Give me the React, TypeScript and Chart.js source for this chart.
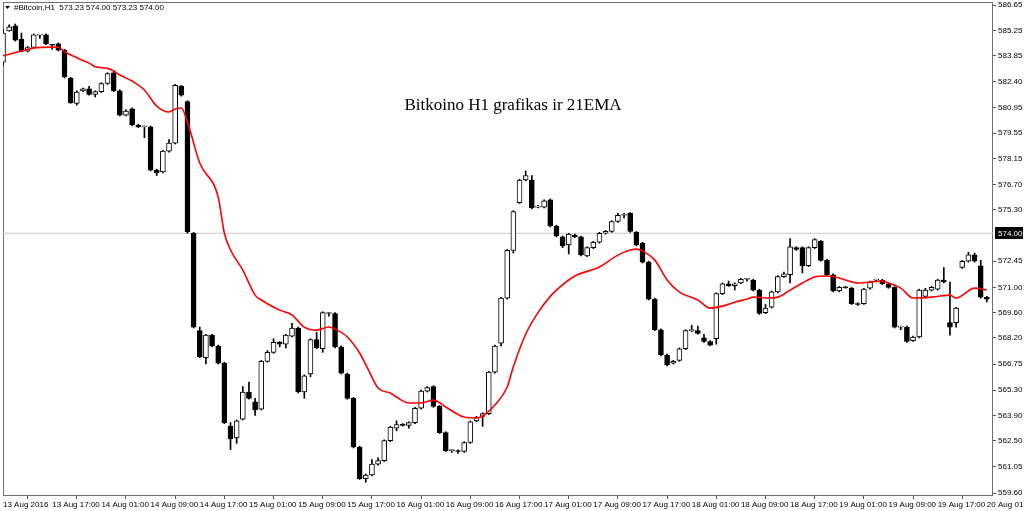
import React, { useEffect, useRef } from "react";
import { Chart, registerables } from "chart.js";

Chart.register(...registerables);

const symbolHeader = "#Bitcoin,H1  573.23 574.00 573.23 574.00";
const chartTitle = "Bitkoino H1 grafikas ir 21EMA";

const xTickLabels = [
  "13 Aug 2016", "13 Aug 17:00", "14 Aug 01:00", "14 Aug 09:00", "14 Aug 17:00",
  "15 Aug 01:00", "15 Aug 09:00", "15 Aug 17:00", "16 Aug 01:00", "16 Aug 09:00",
  "16 Aug 17:00", "17 Aug 01:00", "17 Aug 09:00", "17 Aug 17:00", "18 Aug 01:00",
  "18 Aug 09:00", "18 Aug 17:00", "19 Aug 01:00", "19 Aug 09:00", "19 Aug 17:00",
  "20 Aug 01:00",
];

const yTickValues = [
  586.65, 585.25, 583.85, 582.4, 580.95, 579.55, 578.15, 576.7, 575.3,
  572.45, 571.0, 569.6, 568.2, 566.75, 565.3, 563.9, 562.5, 561.05, 559.6,
];

const currentPrice = 574.0;

// hourly candles (one per bar, 13 Aug 09:00 .. 20 Aug 01:00)
const opens = [
  583.49, 585.21, 585.5, 584.77, 584.1, 584.3, 584.98, 585.0, 584.45, 584.5,
  584.15, 582.6, 581.2, 581.9, 582.0, 581.7, 581.85, 582.3, 582.9, 581.9,
  580.55, 580.9, 580.0, 579.9, 579.9, 577.5, 577.4, 578.55, 579.0, 582.15,
  581.3, 574.0, 568.6, 567.1, 568.35, 567.75, 566.8, 563.3, 562.65, 563.7,
  565.2, 564.65, 564.25, 566.9, 567.4, 567.95, 567.85, 568.3, 568.75, 565.2,
  566.2, 568.1, 567.6, 569.55, 569.55, 567.7, 566.2, 564.85, 562.15, 560.4,
  560.6, 561.2, 561.4, 562.5, 563.2, 563.4, 563.35, 563.5, 564.3, 565.25,
  565.5, 564.4, 562.95, 561.95, 561.95, 561.9, 562.4, 563.6, 563.85, 564.0,
  566.3, 567.9, 570.4, 573.05, 575.7, 576.95, 576.95, 575.45, 575.45, 575.85,
  574.4, 573.8, 573.35, 573.9, 573.8, 572.75, 573.2, 573.5, 574.0, 574.1,
  574.65, 575.0, 575.1, 574.05, 573.45, 572.4, 570.35, 568.65, 567.25, 566.8,
  566.95, 567.6, 568.6, 568.6, 568.2, 568.0, 568.15, 570.65, 571.2, 571.1,
  571.25, 571.45, 571.4, 570.85, 569.6, 569.9, 570.75, 571.6, 571.7, 573.2,
  573.2, 572.2, 573.2, 573.55, 572.5, 571.7, 570.8, 571.0, 570.95, 570.1,
  570.1, 570.95, 571.4, 571.4, 571.2, 571.0, 568.8, 568.8, 568.05, 568.25,
  570.5, 570.85, 570.9, 571.4, 569.05, 569.05, 572.1, 572.45, 572.8, 572.2,
  570.45,
];

const highs = [
  585.3, 585.55, 585.6, 585.1, 584.35, 585.05, 585.0, 585.05, 584.47, 584.55,
  584.2, 582.65, 581.9, 582.05, 582.15, 581.9, 582.35, 582.9, 583.0, 581.95,
  580.85, 580.95, 580.05, 579.95, 579.95, 577.55, 578.6, 579.2, 582.25, 582.2,
  581.35, 574.05, 568.8, 568.4, 568.4, 567.8, 566.85, 563.5, 563.65, 565.5,
  565.75, 564.85, 566.95, 567.5, 568.15, 568.0, 568.4, 569.0, 568.8, 566.15,
  568.15, 568.5, 569.65, 569.6, 569.6, 567.75, 566.25, 564.9, 562.2, 560.65,
  561.45, 561.55, 562.55, 563.3, 563.6, 563.45, 563.55, 564.35, 565.3, 565.5,
  565.55, 564.45, 563.0, 562.0, 562.0, 562.45, 563.6, 563.85, 564.05, 566.35,
  567.8, 570.45, 573.1, 575.25, 577.0, 577.45, 577.2, 575.55, 575.85, 575.9,
  574.45, 573.85, 574.0, 573.95, 573.85, 573.25, 573.55, 574.05, 574.15, 574.7,
  575.1, 575.1, 575.15, 574.1, 573.5, 572.45, 570.4, 568.7, 567.3, 566.95,
  567.65, 568.65, 568.9, 568.85, 568.4, 568.05, 570.7, 571.25, 571.35, 571.25,
  571.5, 571.5, 571.45, 570.9, 570.05, 570.8, 571.65, 571.85, 573.7, 573.25,
  573.25, 573.25, 573.7, 573.6, 572.55, 571.75, 571.05, 571.05, 571.0, 570.15,
  570.95, 571.35, 571.45, 571.45, 571.25, 571.05, 568.85, 568.85, 568.3, 570.9,
  570.95, 571.05, 571.45, 572.1, 571.3, 569.9, 572.5, 572.95, 572.9, 572.5,
  570.5,
];

const lows = [
  583.3, 585.2, 584.65, 584.05, 584.05, 584.25, 584.8, 584.45, 584.2, 584.1,
  582.6, 581.2, 581.1, 581.85, 581.65, 581.55, 581.8, 582.25, 581.85, 580.5,
  580.5, 579.95, 579.85, 579.3, 577.45, 577.2, 577.35, 578.5, 578.95, 581.6,
  574.0, 568.75, 567.1, 566.75, 567.7, 566.75, 563.45, 562.0, 562.35, 563.65,
  564.8, 563.9, 564.2, 566.85, 567.35, 567.7, 567.65, 568.25, 565.15, 564.85,
  566.05, 567.6, 567.4, 569.4, 567.65, 566.2, 564.8, 562.1, 560.35, 560.2,
  560.55, 561.15, 561.35, 562.45, 563.05, 563.3, 563.2, 563.45, 564.25, 565.2,
  564.35, 562.9, 561.9, 561.85, 561.8, 561.85, 562.35, 563.55, 563.3, 563.95,
  566.25, 567.75, 570.35, 572.9, 575.65, 576.9, 575.35, 575.4, 575.4, 574.35,
  573.8, 573.2, 572.85, 573.75, 572.75, 572.7, 573.15, 573.45, 573.95, 574.05,
  574.6, 574.85, 574.05, 573.3, 572.35, 570.3, 568.6, 567.2, 566.65, 566.75,
  566.9, 567.55, 568.55, 568.4, 567.95, 567.75, 567.85, 570.6, 571.05, 570.85,
  571.2, 571.35, 570.8, 569.5, 569.55, 569.85, 570.7, 571.55, 571.25, 573.05,
  571.8, 572.15, 573.15, 572.45, 571.65, 570.75, 570.75, 570.95, 570.05, 570.0,
  570.05, 570.9, 571.35, 571.15, 570.95, 568.75, 568.65, 567.95, 568.0, 568.2,
  570.45, 570.8, 570.85, 571.25, 568.35, 568.8, 572.05, 572.4, 572.4, 570.4,
  570.2,
];

const closes = [
  585.1, 585.45, 584.7, 584.1, 584.3, 585.0, 584.98, 584.5, 584.42, 584.15,
  582.66, 581.22, 581.83, 582.0, 581.7, 581.85, 582.3, 582.85, 581.9, 580.55,
  580.77, 580.0, 579.9, 579.9, 577.5, 577.35, 578.55, 579.0, 582.2, 581.65,
  574.07, 568.8, 567.15, 568.35, 567.75, 566.8, 563.5, 562.6, 563.6, 565.2,
  564.85, 564.2, 566.9, 567.4, 567.95, 567.85, 568.35, 568.75, 565.2, 566.1,
  568.1, 567.65, 569.6, 569.55, 567.7, 566.25, 564.85, 562.15, 560.4, 560.6,
  561.2, 561.4, 562.5, 563.25, 563.4, 563.35, 563.5, 564.3, 565.25, 565.45,
  564.4, 562.95, 561.95, 561.95, 561.9, 562.4, 563.55, 563.8, 564.0, 566.3,
  567.75, 570.4, 573.05, 575.2, 576.95, 577.2, 575.4, 575.45, 575.8, 574.4,
  573.85, 573.3, 573.95, 573.8, 572.8, 573.2, 573.5, 574.0, 574.1, 574.65,
  575.0, 575.05, 574.1, 573.35, 572.4, 570.35, 568.65, 567.25, 566.7, 566.9,
  567.6, 568.6, 568.6, 568.45, 568.0, 567.8, 570.65, 571.2, 571.1, 571.2,
  571.45, 571.45, 570.85, 569.55, 569.85, 570.75, 571.6, 571.75, 573.25, 573.1,
  572.2, 573.2, 573.65, 572.5, 571.7, 570.8, 571.0, 570.98, 570.1, 570.05,
  570.9, 571.3, 571.4, 571.2, 571.0, 568.8, 568.8, 568.0, 568.25, 570.85,
  570.85, 571.0, 571.4, 571.3, 568.8, 569.85, 572.45, 572.8, 572.45, 570.45,
  570.35,
];

const emaBars = [
  0, 3, 5, 8, 9, 10, 12, 14, 15, 17, 18, 19, 21, 23, 25, 27, 28, 29, 30, 32,
  35, 36, 37, 39, 41, 42, 45, 47, 49, 51, 53, 54, 56, 58, 60, 61, 63, 64, 66,
  68, 70, 72, 75, 77, 78, 80, 82, 83, 85, 87, 89, 90, 93, 97, 100, 102, 103,
  104, 106, 108, 110, 113, 115, 117, 119, 121, 122, 124, 126, 128, 130, 132,
  134, 136, 137, 139, 141, 143, 144, 146, 148, 151, 154, 155, 158, 160,
];
const emaValues = [
  583.84, 584.1, 584.27, 584.32, 584.31, 584.06, 583.73, 583.43, 583.23, 583.14,
  583.0, 582.77, 582.44, 581.94, 581.05, 580.72, 580.89, 580.94, 580.16, 577.89,
  576.0, 574.0, 573.07, 571.96, 570.57, 570.3, 569.74, 569.47, 568.8, 568.63,
  568.8, 568.69, 568.25, 567.36, 566.03, 565.42, 565.14, 564.92, 564.59, 564.59,
  564.75, 564.37, 563.81, 563.76, 563.87, 564.48, 565.48, 566.6, 568.4, 569.6,
  570.5, 570.85, 571.63, 572.13, 572.79, 573.07, 573.12, 573.01, 572.51, 571.41,
  570.74, 570.3, 569.85, 569.96, 570.18, 570.35, 570.46, 570.41, 570.46, 570.85,
  571.24, 571.57, 571.63, 571.52, 571.41, 571.24, 571.3, 571.35, 571.24, 570.96,
  570.41, 570.46, 570.57, 570.41, 570.96, 570.85,
];

const FONT = "'Liberation Sans', Arial, sans-serif";

export default function App() {
  const canvasRef = useRef<HTMLCanvasElement | null>(null);

  useEffect(() => {
    document.body.style.margin = "0";
    const canvas = canvasRef.current;
    if (!canvas) return;

    const bodies = opens.map((o, i) => ({ x: i, y: [o, closes[i]] }));
    const wicks = opens.map((_, i) => ({ x: i, y: [lows[i], highs[i]] }));
    const bodyFill = opens.map((o, i) => (closes[i] >= o ? "#ffffff" : "#000000"));
    const ema = emaBars.map((b, k) => ({ x: b, y: emaValues[k] }));

    const overlay = {
      id: "mt4overlay",
      beforeDatasetsDraw(chart: any) {
        const { ctx, chartArea } = chart;
        ctx.save();
        ctx.strokeStyle = "#707070";
        ctx.lineWidth = 1;
        ctx.strokeRect(chartArea.left + 0.5, chartArea.top + 0.5, chartArea.right - chartArea.left - 1, chartArea.bottom - chartArea.top);
        ctx.restore();
      },
      afterDraw(chart: any) {
        const { ctx, chartArea, scales } = chart;
        ctx.save();
        // header
        ctx.fillStyle = "#000";
        ctx.beginPath();
        ctx.moveTo(5, 6);
        ctx.lineTo(10, 6);
        ctx.lineTo(7.5, 9);
        ctx.closePath();
        ctx.fill();
        ctx.font = `8px ${FONT}`;
        ctx.textBaseline = "middle";
        ctx.textAlign = "left";
        ctx.fillText(symbolHeader, 14, 8);
        // title
        ctx.font = "17px 'Liberation Serif', 'Times New Roman', serif";
        ctx.textAlign = "center";
        ctx.fillText(chartTitle, 513, 106);
        // current price label
        const py = scales.y.getPixelForValue(currentPrice);
        ctx.fillStyle = "#000";
        ctx.fillRect(chartArea.right + 2, Math.round(py) - 6, 28, 12);
        ctx.fillStyle = "#fff";
        ctx.font = `8px ${FONT}`;
        ctx.textAlign = "left";
        ctx.fillText(currentPrice.toFixed(2), chartArea.right + 5, Math.round(py) + 0.5);
        ctx.restore();
      },
    };

    const chart = new Chart(canvas, {
      type: "bar",
      data: {
        datasets: [
          {
            type: "line",
            data: ema,
            borderColor: "#ff0000",
            borderWidth: 1.6,
            pointRadius: 0,
            cubicInterpolationMode: "monotone",
            order: 0,
          } as any,
          {
            type: "bar",
            data: bodies,
            backgroundColor: bodyFill,
            borderColor: "#000000",
            borderWidth: 1,
            borderSkipped: false,
            barThickness: 5,
            minBarLength: 1,
            grouped: false,
            order: 1,
          } as any,
          {
            type: "bar",
            data: wicks,
            backgroundColor: "#000000",
            borderWidth: 0,
            barThickness: 1,
            grouped: false,
            order: 2,
          } as any,
          {
            type: "line",
            data: [
              { x: 0, y: currentPrice },
              { x: 161, y: currentPrice },
            ],
            borderColor: "#c8c8c8",
            borderWidth: 1,
            pointRadius: 0,
            order: 5,
          } as any,
        ],
      },
      options: {
        responsive: false,
        animation: false,
        devicePixelRatio: 1,
        layout: { autoPadding: false, padding: { left: 3, top: 2, right: 0, bottom: 0 } },
        plugins: { legend: { display: false }, tooltip: { enabled: false }, title: { display: false } },
        scales: {
          x: {
            type: "linear",
            position: "bottom",
            min: 0,
            max: 161,
            offset: false,
            grid: { display: true, drawOnChartArea: false, drawTicks: true, tickLength: 4, color: "#555" },
            border: { display: false },
            ticks: {
              autoSkip: false,
              maxRotation: 0,
              align: "start",
              padding: 1,
              color: "#000",
              font: { family: FONT, size: 8 },
              callback: (v: any) => xTickLabels[Math.round(Number(v) / 8)] ?? "",
            },
            afterBuildTicks: (s: any) => {
              s.ticks = xTickLabels.map((_, k) => ({ value: k * 8 }));
            },
            afterFit: (s: any) => {
              s.height = 16;
              s.paddingLeft = 0;
              s.paddingRight = 0;
            },
          } as any,
          y: {
            type: "linear",
            position: "right",
            min: 559.49,
            max: 586.82,
            grid: { display: true, drawOnChartArea: false, drawTicks: true, tickLength: 3, color: "#555" },
            border: { display: false },
            ticks: {
              padding: 2,
              color: "#000",
              font: { family: FONT, size: 8 },
              callback: (v: any) => Number(v).toFixed(2),
            },
            afterBuildTicks: (s: any) => {
              s.ticks = yTickValues.map((v) => ({ value: v }));
            },
            afterFit: (s: any) => {
              s.width = 31;
              s.paddingTop = 0;
              s.paddingBottom = 0;
            },
          } as any,
        },
      },
      plugins: [overlay],
    });

    return () => chart.destroy();
  }, []);

  return (
    <div style={{ width: 1024, height: 511, background: "#fff" }}>
      <canvas ref={canvasRef} width={1024} height={511} style={{ display: "block" }} />
    </div>
  );
}
